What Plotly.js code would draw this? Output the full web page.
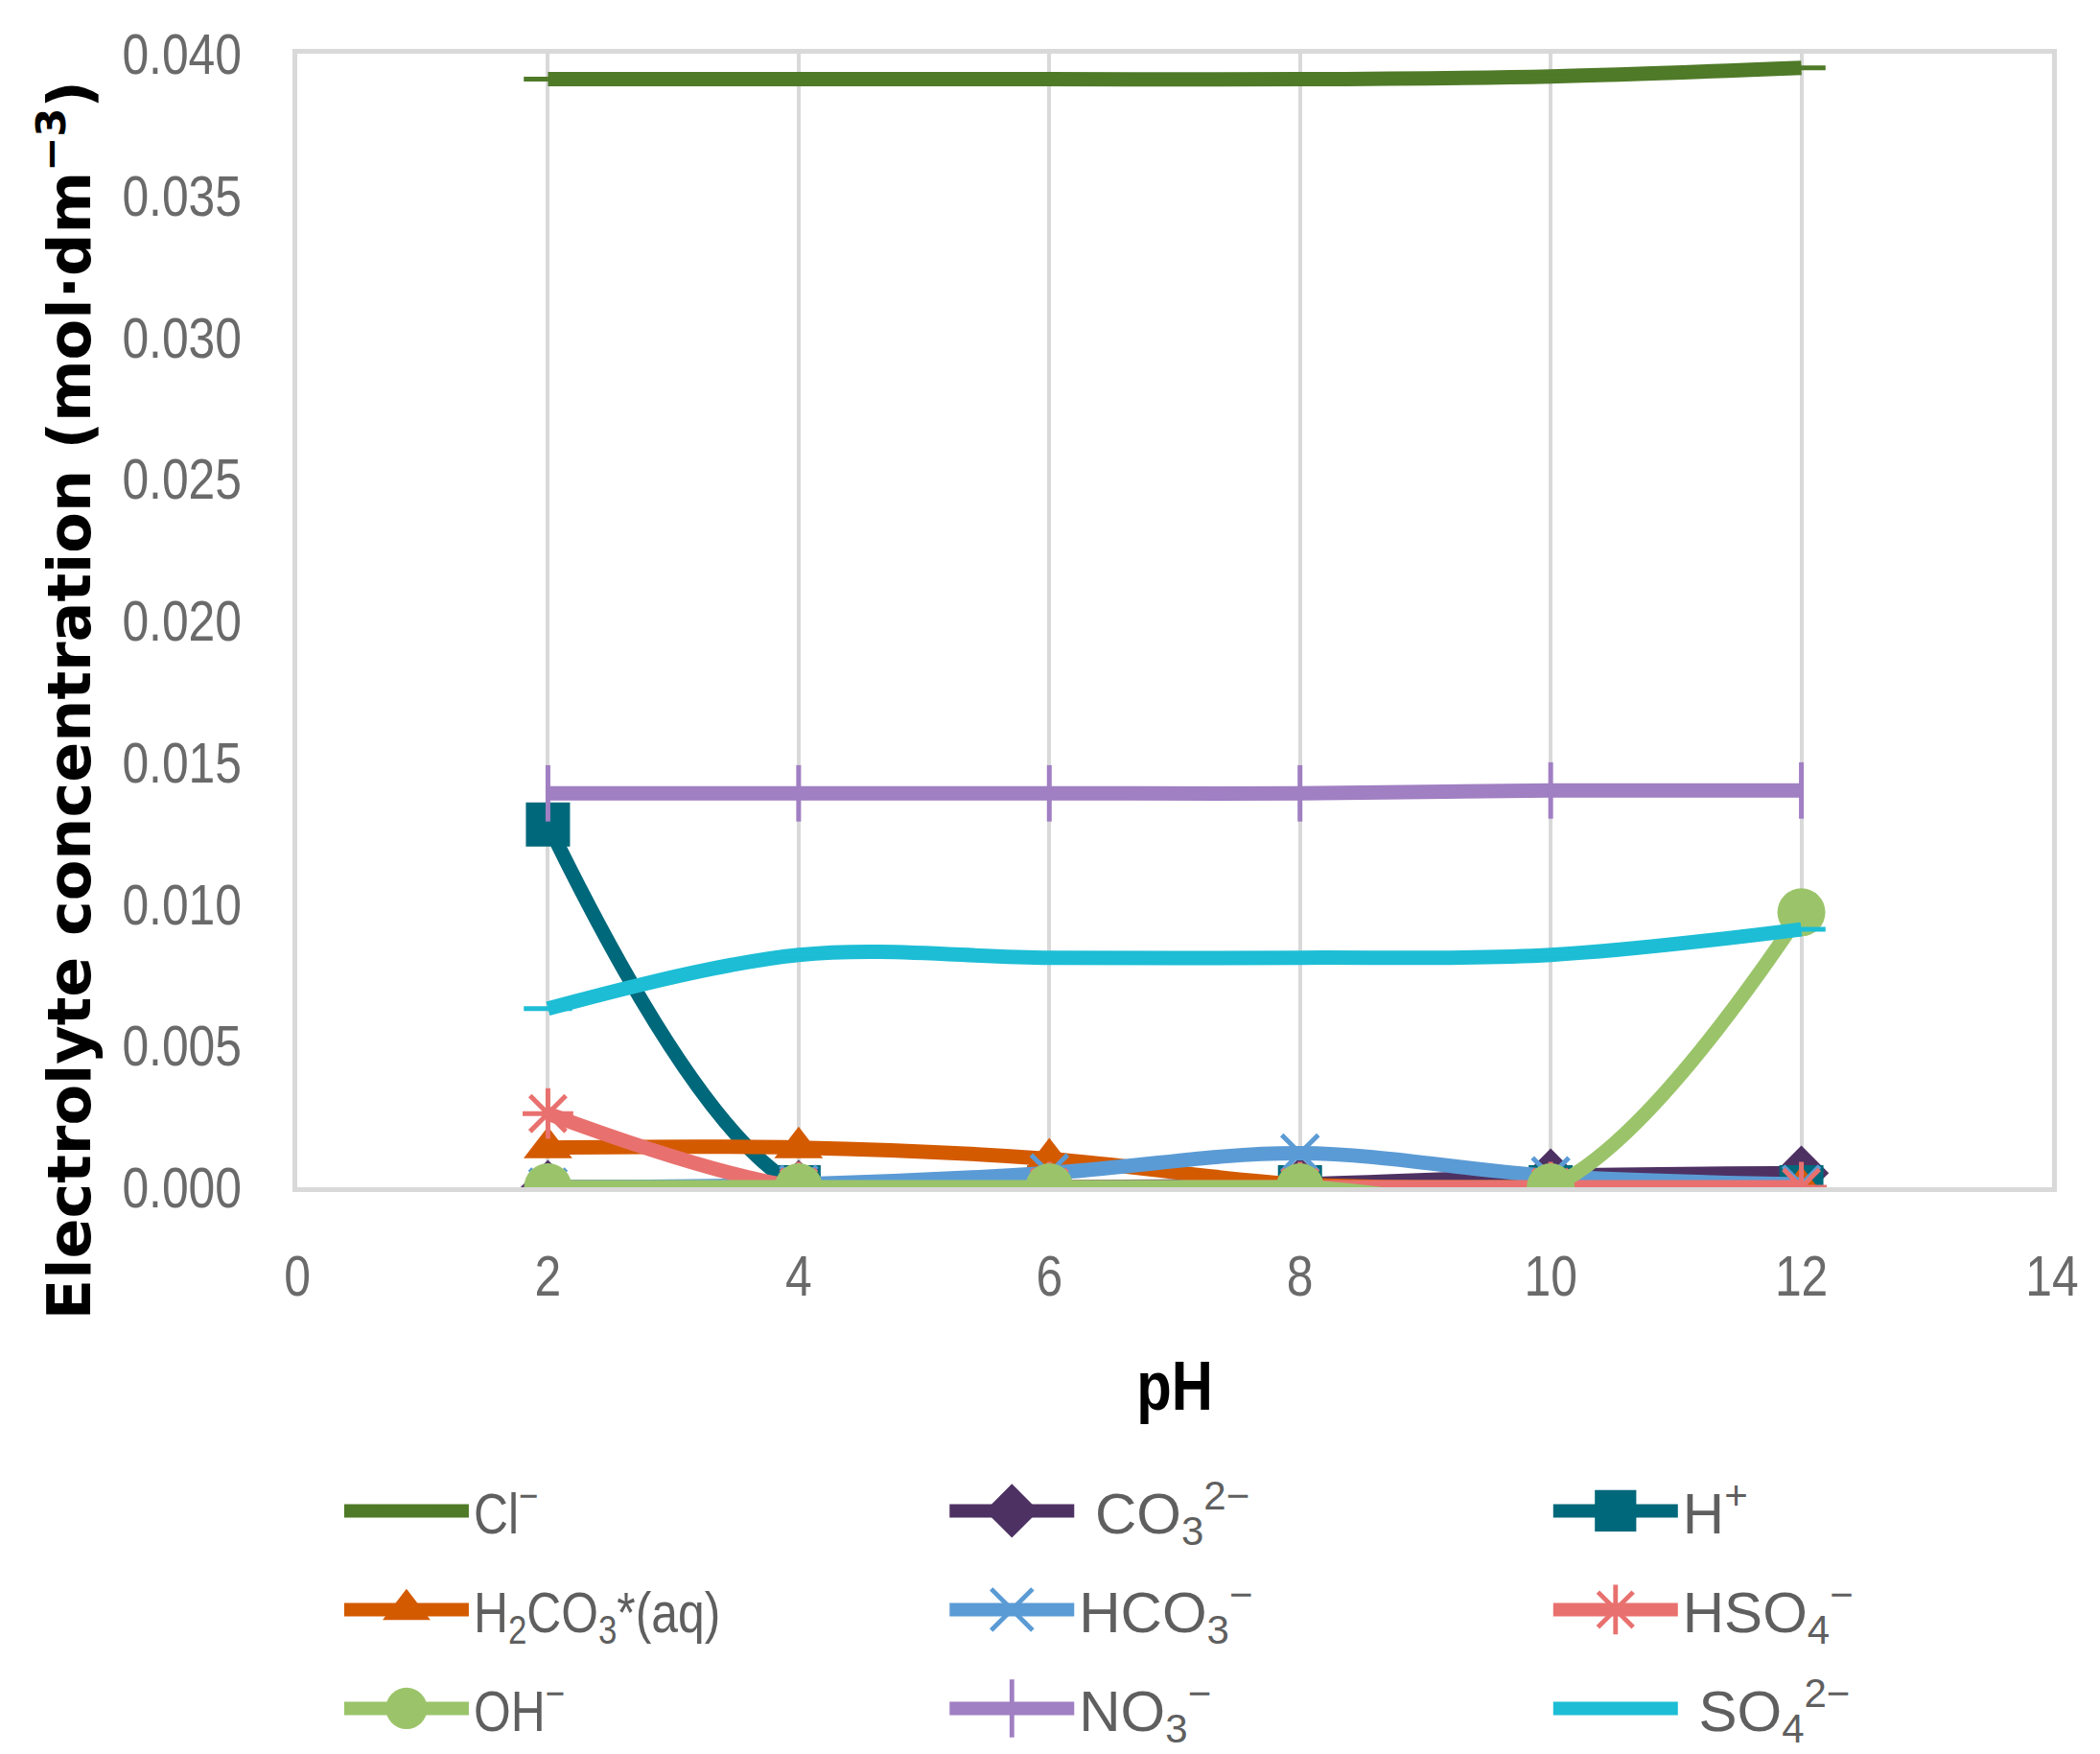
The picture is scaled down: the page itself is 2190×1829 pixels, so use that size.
<!DOCTYPE html>
<html>
<head>
<meta charset="utf-8">
<script src="https://cdn.plot.ly/plotly-3.0.1.min.js"></script>
<style>
  html, body { margin: 0; padding: 0; background: #fff; }
  #chart { width: 2190px; height: 1829px; }
</style>
</head>
<body>
<div id="chart"></div>
<script>
// pH values where the electrolyte was sampled
const PH = [2, 4, 6, 8, 10, 12];

// concentrations in mol·dm⁻³
const CL = [0.0391, 0.0391, 0.0391, 0.0391, 0.0392, 0.0395];
const CO3 = [0.0000, 0.0000, 0.0000, 0.0001, 0.0004, 0.0005];
const H_PLUS = [0.0128, 0.0000, 0.0000, 0.0000, 0.0000, 0.0000];
const H2CO3 = [0.0014, 0.0014, 0.0010, 0.0001, 0.0000, 0.0000];
const HCO3 = [0.0000, 0.0001, 0.0005, 0.0012, 0.0004, 0.0001];
const HSO4 = [0.0026, 0.0000, 0.0000, 0.0000, 0.0000, 0.0000];
const OH = [0.0000, 0.0000, 0.0000, 0.0000, 0.0000, 0.0097];
const NO3 = [0.0139, 0.0139, 0.0139, 0.0139, 0.0140, 0.0140];
const SO4 = [0.0063, 0.0082, 0.0081, 0.0081, 0.0082, 0.0091];

const TEXT_FAMILY = '"Liberation Sans", Arial, sans-serif';
const TICK_FONT = { family: TEXT_FAMILY, size: 60, color: '#6a6a6a' };

// name, values, colour, marker symbol, marker size
const SERIES = [
  ['Cl<sup>−</sup>', CL, '#4f7a28', 'line-ew', 36],
  ['\u00a0CO<sub>3</sub><sup>2−</sup>', CO3, '#4e3163', 'diamond', 44],
  ['H<sup>+</sup>', H_PLUS, '#00687b', 'square', 46],
  ['H<sub>2</sub>CO<sub>3</sub>*(aq)', H2CO3, '#d45a00', 'triangle-up', 44],
  ['HCO<sub>3</sub><sup>−</sup>', HCO3, '#5b9bd5', 'x-thin', 38],
  ['HSO<sub>4</sub><sup>−</sup>', HSO4, '#e8716f', 'asterisk', 44],
  ['OH<sup>−</sup>', OH, '#9bc46a', 'circle', 50],
  ['NO<sub>3</sub><sup>−</sup>', NO3, '#a07fc2', 'line-ns', 42],
  ['\u00a0SO<sub>4</sub><sup>2−</sup>', SO4, '#1dbdd5', 'line-ew', 36],
];

const LINE_SYMBOLS = ['line-ew', 'line-ns', 'x-thin', 'asterisk'];
const LEGEND_IDS = ['legend', 'legend2', 'legend3'];

const data = SERIES.map(([name, values, color, symbol, size], i) => ({
  type: 'scatter',
  mode: 'lines+markers',
  name,
  x: PH,
  y: values,
  legend: LEGEND_IDS[i % 3],
  legendgroup: 'g' + i,
  line: { color, width: 15, shape: 'spline', smoothing: 1 },
  marker: {
    symbol,
    size,
    color,
    line: { color, width: LINE_SYMBOLS.includes(symbol) ? 5 : 0 },
  },
}));

function legendBox(x) {
  return {
    orientation: 'v',
    x,
    xanchor: 'left',
    y: -0.247,
    yanchor: 'top',
    itemwidth: 130,
    tracegroupgap: 22,
    font: { family: TEXT_FAMILY, size: 60, color: '#5f5f5f' },
    bgcolor: 'rgba(0,0,0,0)',
  };
}

const layout = {
  width: 2190,
  height: 1829,
  margin: { l: 310, r: 50, t: 56, b: 591, autoexpand: false },
  paper_bgcolor: '#ffffff',
  plot_bgcolor: '#ffffff',
  showlegend: true,
  xaxis: {
    range: [0, 14],
    dtick: 2,
    tick0: 0,
    showgrid: true,
    gridcolor: '#d9d9d9',
    gridwidth: 4,
    zeroline: false,
    showline: true,
    mirror: true,
    linecolor: '#d9d9d9',
    linewidth: 5,
    ticks: '',
    ticklabelstandoff: 36,
    tickfont: TICK_FONT,
    title: {
      text: 'pH',
      standoff: 58,
      font: { family: TEXT_FAMILY, size: 72, color: '#000000', weight: 'bold' },
    },
  },
  yaxis: {
    range: [0, 0.04],
    dtick: 0.005,
    tickformat: '.3f',
    showgrid: false,
    zeroline: false,
    showline: true,
    mirror: true,
    linecolor: '#d9d9d9',
    linewidth: 5,
    ticks: '',
    ticklabelstandoff: 41,
    tickfont: TICK_FONT,
  },
  annotations: [{
    text: 'Electrolyte concentration (mol·dm<sup>−3</sup>)',
    xref: 'paper',
    yref: 'paper',
    x: -0.132,
    y: 0.43,
    xanchor: 'center',
    yanchor: 'middle',
    textangle: -90,
    showarrow: false,
    font: { family: '"DejaVu Sans", sans-serif', size: 62, color: '#000000', weight: 'bold' },
  }],
  legend: legendBox(0.024),
  legend2: legendBox(0.369),
  legend3: legendBox(0.713),
};

// the source figure is squeezed sideways, so narrow the horizontal texts to match
function condenseTexts(gd, selector, ratio) {
  gd.querySelectorAll(selector).forEach((node) => {
    const len = node.getComputedTextLength();
    if (!len) return;
    node.setAttribute('textLength', (len * ratio).toFixed(1));
    node.setAttribute('lengthAdjust', 'spacingAndGlyphs');
  });
}

// Plotly caps legend marker size; blow the legend symbols up to the size in the figure
function enlargeLegendSymbols(gd) {
  gd.querySelectorAll('.legendpoints path.scatterpts').forEach((node) => {
    const t = node.getAttribute('transform') || '';
    node.setAttribute('transform', t + ' scale(2.7)');
    node.style.strokeWidth = '1.8px';
  });
  gd.querySelectorAll('.legendlines path').forEach((node) => {
    node.style.strokeWidth = '14px';
  });
}

Plotly.newPlot('chart', data, layout, { displayModeBar: false, responsive: false }).then((gd) => {
  condenseTexts(gd, '.xtick text, .ytick text, .legendtext, .g-xtitle text', 0.83);
  enlargeLegendSymbols(gd);
});
</script>
</body>
</html>
